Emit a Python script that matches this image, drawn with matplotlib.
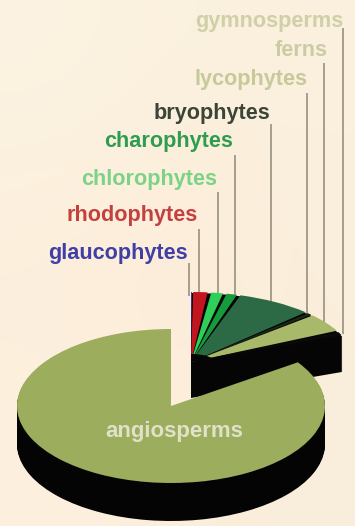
import numpy as np
import matplotlib
matplotlib.use('Agg')
import matplotlib.pyplot as plt
from matplotlib.patches import Wedge
from matplotlib.transforms import Affine2D

plt.rcParams['font.family'] = ['Liberation Sans', 'DejaVu Sans']

# share of species per group, percent
groups = ['glaucophytes', 'rhodophytes', 'chlorophytes', 'charophytes',
          'bryophytes', 'lycophytes', 'ferns', 'gymnosperms']
shares = [0.1, 1.4, 1.2, 1.1, 6.2, 0.5, 3.6, 0.8]
angiosperm_share = 84.6

top_colors = ['#3a3a9a', '#c2161f', '#2fd057', '#159a3c',
              '#2c6a45', '#1a2a1a', '#a9b96a', '#0a0a0a']
label_colors = ['#3f3fa6', '#c4403e', '#7bd388', '#2f9c50',
                '#3c4438', '#c6c99a', '#cbcba6', '#cfcfa8']

# right end of each label, label centre height, leader foot
label_right = [188, 198, 217, 233, 270, 308, 328, 343]
label_y = [253, 216, 179, 142, 113, 80, 50, 21]
leader_x = [189, 199, 218, 235, 271, 307, 324, 343]
leader_top = [263, 229, 192, 155, 124, 93, 63, 28]
leader_bottom = [296, 296, 296, 296, 305, 318, 326, 334]

fig = plt.figure(figsize=(3.55, 5.26), dpi=100)
ax = fig.add_axes([0, 0, 1, 1])
ax.set_xlim(0, 355)
ax.set_ylim(526, 0)
ax.axis('off')

# soft cream backdrop, a little warmer through the middle
backdrop = np.array([[[251, 243, 226], [251, 241, 222], [250, 241, 222]],
                     [[253, 238, 219], [254, 236, 216], [251, 238, 220]],
                     [[252, 240, 222], [252, 239, 220], [249, 239, 220]]]) / 255
ax.imshow(backdrop, extent=(0, 355, 526, 0), aspect='auto',
          interpolation='bicubic', zorder=0)


def elliptic_wedge(cx, cy, rx, ry, t1, t2, color, z, dy=0):
    tr = Affine2D().scale(rx, -ry).translate(cx, cy + dy) + ax.transData
    ax.add_patch(Wedge((0, 0), 1, t1, t2, transform=tr, facecolor=color,
                       edgecolor='none', linewidth=0, zorder=z))


# pulled-out fan of the small groups, spread a bit wider than its true angle
fan_cx, fan_cy, fan_rx, fan_ry, fan_depth = 191, 362, 163, 70, 36
fan_stretch = 1.27
fan_total = sum(shares) * 3.6 * fan_stretch
for step in np.arange(fan_depth, 0, -1.0):
    elliptic_wedge(fan_cx, fan_cy, fan_rx, fan_ry,
                   90 - fan_total, 90, '#050505', 2, dy=step)

start = 90.0
for share, color in zip(shares, top_colors):
    sweep = share * 3.6 * fan_stretch
    gap = min(1.0, sweep * 0.2)
    elliptic_wedge(fan_cx, fan_cy, fan_rx, fan_ry,
                   start - sweep + gap, start - gap * 0.3, color, 3)
    start -= sweep
elliptic_wedge(fan_cx, fan_cy, 24, 8, 90 - fan_total, 90, '#050505', 4)

# angiosperm slice with its black rim
main_cx, main_cy, main_rx, main_ry, main_depth = 171, 406, 154, 77, 38
main_t2 = 90.0
main_t1 = 90.0 + angiosperm_share * 3.6
for step in np.arange(main_depth, 0, -1.0):
    elliptic_wedge(main_cx, main_cy, main_rx, main_ry,
                   main_t2, main_t1, '#040404', 5, dy=step)
elliptic_wedge(main_cx, main_cy, main_rx, main_ry,
               main_t2, main_t1, '#9cad5d', 6)

for name, col, rx_, ly, lx, lt, lb in zip(groups, label_colors, label_right, label_y,
                                          leader_x, leader_top, leader_bottom):
    ax.text(rx_, ly, name, color=col, fontsize=15.6, fontweight='bold',
            ha='right', va='center', zorder=8)
    ax.plot([lx, lx], [lt, lb], color='#8f8878', lw=1.1, zorder=1,
            solid_capstyle='butt')

ax.text(174, 431, 'angiosperms', color='#dfe2c8', fontsize=16,
        fontweight='bold', ha='center', va='center', zorder=8)

fig.savefig('out.png', dpi=100)
